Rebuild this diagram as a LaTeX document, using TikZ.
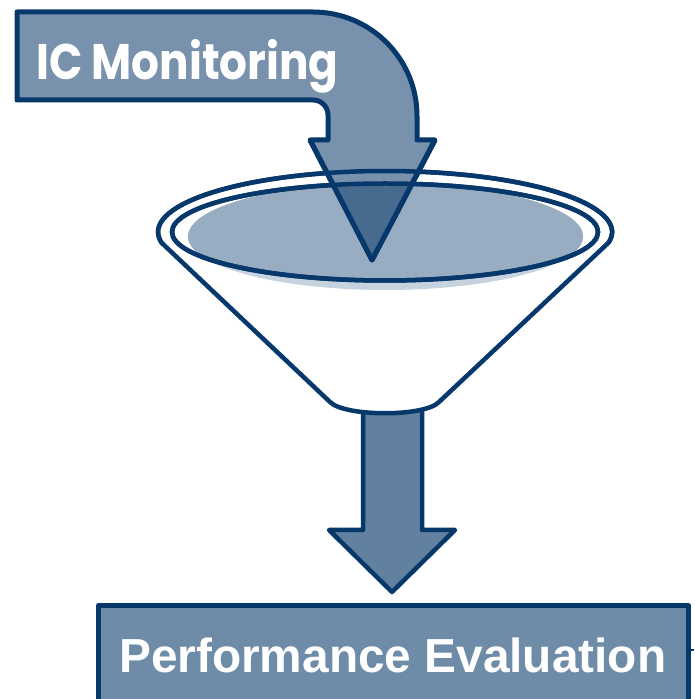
\documentclass[tikz,border=0pt]{standalone}
\usepackage{fontspec}
\setmainfont{Liberation Sans}
\newfontfamily\geofont{Poppins}
\definecolor{edgeblue}{HTML}{06386B}
\definecolor{topfill}{HTML}{7891AC}
\definecolor{shaftfill}{HTML}{62809F}
\definecolor{boxfill}{HTML}{6E8BA8}
\definecolor{darktri}{HTML}{476A8F}
\definecolor{rimfill}{HTML}{98ADC2}
\definecolor{rimshade}{HTML}{C6D2DE}
\begin{document}
\begin{tikzpicture}[x=1pt,y=1pt,
  outline/.style={draw=edgeblue, line width=4.5pt, line join=round},
  label/.style={text=white, inner sep=0pt, anchor=base west}]
\clip (0,0) rectangle (694,699);
\fill[white] (0,0) rectangle (694,699);

% arrow leaving the funnel
\path[outline, fill=shaftfill] (363,300) -- (363,169) -- (329,169) -- (392,107)
  -- (455,169) -- (422,169) -- (422,300) -- cycle;

% funnel body with the outer rim
\path[outline, fill=white] (161.4,456.4) -- (330,297)
  .. controls (345,282) and (425,282) .. (439,297) -- (608.6,456.4)
  arc[start angle=-10, end angle=190, x radius=227, y radius=61] -- cycle;

% liquid surface inside the inner rim
\fill[rimshade] (385.5,462.5) ellipse[x radius=197.5, y radius=53.5];
\begin{scope}
  \clip (385,467) ellipse[x radius=213, y radius=48.5];
  \fill[rimfill] (385.5,462.5) ellipse[x radius=197.5, y radius=53.5];
\end{scope}
\draw[edgeblue, line width=4.5pt] (385,467) ellipse[x radius=213, y radius=48.5];

% bent arrow coming in from the top
\path[outline, line width=5pt, fill=topfill] (17,687) -- (17,599) -- (313,599)
  arc[start angle=90, end angle=0, radius=15] -- (328,559) -- (310,559)
  -- (372,439) -- (435,559) -- (417,559) -- (417,583)
  arc[start angle=0, end angle=90, radius=104] -- cycle;

% part of the arrow head seen through the liquid
\begin{scope}
  \clip (385,467) ellipse[x radius=213, y radius=48.5];
  \fill[darktri] (310,559) -- (372,439) -- (435,559) -- cycle;
\end{scope}

% rim lines and arrow head edges on top
\draw[edgeblue, line width=4.5pt] (385,467) ellipse[x radius=213, y radius=48.5];
\draw[edgeblue, line width=4.5pt] (608.6,456.4)
  arc[start angle=-10, end angle=190, x radius=227, y radius=61];
\draw[edgeblue, line width=5pt, line join=round] (310,559) -- (372,439) -- (435,559);

\node[label] (ictext) at (36,619)
  {\scalebox{0.875}[1]{\geofont\bfseries\fontsize{50}{50}\selectfont IC Monitoring}};

% result box
\path[outline, line width=5pt, fill=boxfill] (98.5,-10) rectangle (688.5,93.5);
\draw[edgeblue, line width=2pt] (691,49) -- (694,49);
\node[label] (perf) at (119,27)
  {\bfseries\fontsize{47.8}{48}\selectfont Performance Evaluation};
\end{tikzpicture}
\end{document}
